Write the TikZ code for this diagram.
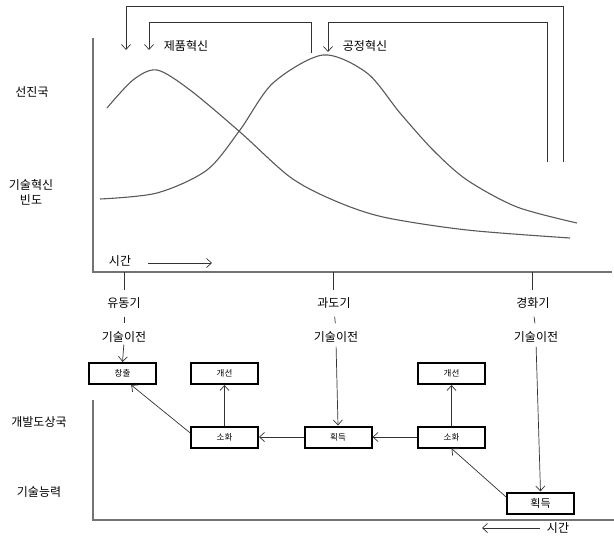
\documentclass[tikz,border=0pt]{standalone}
\usepackage{fontspec}
\setmainfont{Noto Sans CJK KR}
\usetikzlibrary{arrows.meta,shadows}
\begin{document}
\begin{tikzpicture}[x=1pt,y=-1pt,
  lbl/.style={font=\fontsize{12}{15}\selectfont, inner sep=0pt, align=center},
  box/.style={draw=black, line width=2pt, minimum width=67pt, minimum height=21pt, inner sep=0pt, fill=white,
    font=\fontsize{8.5}{10}\selectfont, drop shadow={shadow xshift=1.3pt,shadow yshift=-1.3pt,opacity=0.25}},
  conn/.style={draw=black!80, line width=0.7pt},
  arr/.style={conn, -{Straight Barb[length=5pt,width=9pt]}},
  axis/.style={draw=black!55, line width=1.3pt},
  curve/.style={draw=black!65, line width=1.1pt}]
\useasboundingbox (0,0) rectangle (614,538);

% axes
\draw[axis] (93,38) -- (93,272) -- (612,272);
\draw[axis] (93,400) -- (93,520) -- (614,520);

% curves
\draw[curve] plot[smooth] coordinates {(107,108) (133,80) (157,70) (190,90) (240,132) (290,177) (333,200) (383,217) (467,230) (570,238)};
\draw[curve] plot[smooth] coordinates {(100,199) (157,193) (207,170) (240,130) (273,83) (323,55) (367,73) (400,113) (433,150) (467,180) (517,207) (577,223)};

% brackets
\coordinate (o1) at (563,162); \coordinate (o2) at (563,6); \coordinate (o3) at (126,6); \coordinate (o4) at (126,50);
\draw[arr] (o1) -- (o2) -- (o3) -- (o4);
\coordinate (p1) at (311,53); \coordinate (p2) at (311,22); \coordinate (p3) at (149,22); \coordinate (p4) at (149,50);
\draw[arr] (p1) -- (p2) -- (p3) -- (p4);
\coordinate (q1) at (547,162); \coordinate (q2) at (547,22); \coordinate (q3) at (328,22); \coordinate (q4) at (328,52);
\draw[arr] (q1) -- (q2) -- (q3) -- (q4);

\node[lbl] (prod) at (186,46) {제품혁신};
\node[lbl] (proc) at (365,46) {공정혁신};

% left labels
\node[lbl] (adv) at (32,92) {선진국};
\node[lbl] (freq) at (31,192) {기술혁신\\빈도};
\node[lbl] (dev) at (39,422) {개발도상국};
\node[lbl] (cap) at (39,492) {기술능력};

% time arrows
\node[lbl] (time1) at (120,261) {시간};
\coordinate (ta1) at (148,263); \coordinate (ta2) at (212,263);
\draw[arr] (ta1) -- (ta2);
\node[lbl] (time2) at (558,528) {시간};
\coordinate (tb1) at (540,528); \coordinate (tb2) at (482,528);
\draw[arr] (tb1) -- (tb2);

% stage labels
\coordinate (a1) at (124,272); \coordinate (a2) at (333,272); \coordinate (a3) at (532,272);
\node[lbl] (l1) at (124,303) {유동기};
\node[lbl] (l2) at (334,303) {과도기};
\node[lbl] (l3) at (533,303) {경화기};
\node[lbl] (t1) at (124,337) {기술이전};
\node[lbl] (t2) at (336,337) {기술이전};
\node[lbl] (t3) at (536,337) {기술이전};
\foreach \i in {1,2,3} {
  \draw[conn] (a\i) -- ([yshift=-18pt]a\i);
  \draw[conn, shorten <=8pt, shorten >=8pt] (l\i.south) -- (t\i.north);
}

% boxes
\node[box] (cc) at (122.5,373.5) {창출};
\node[box] (gL) at (224.5,373.5) {개선};
\node[box] (sL) at (224.5,437) {소화};
\node[box] (hM) at (338,437) {획득};
\node[box] (sR) at (451.5,437) {소화};
\node[box] (gR) at (451.5,373.5) {개선};
\node[box, font=\fontsize{11}{13}\selectfont] (hB) at (540.5,503) {획득};

% connectors
\draw[arr, shorten <=2pt] (t1.south) -- (cc.north);
\draw[arr, shorten <=4pt] (t2.south) -- (hM.north);
\draw[arr, shorten <=4pt] (t3.south) -- (hB.north);
\draw[arr] (sL.north) -- (gL.south);
\draw[arr] (sL.173) -- (cc.-53);
\draw[arr] (hM.west) -- (sL.east);
\draw[arr] (sR.west) -- (hM.east);
\draw[arr] (sR.north) -- (gR.south);
\draw[arr] (hB.170) -- (sR.south);
\end{tikzpicture}
\end{document}
